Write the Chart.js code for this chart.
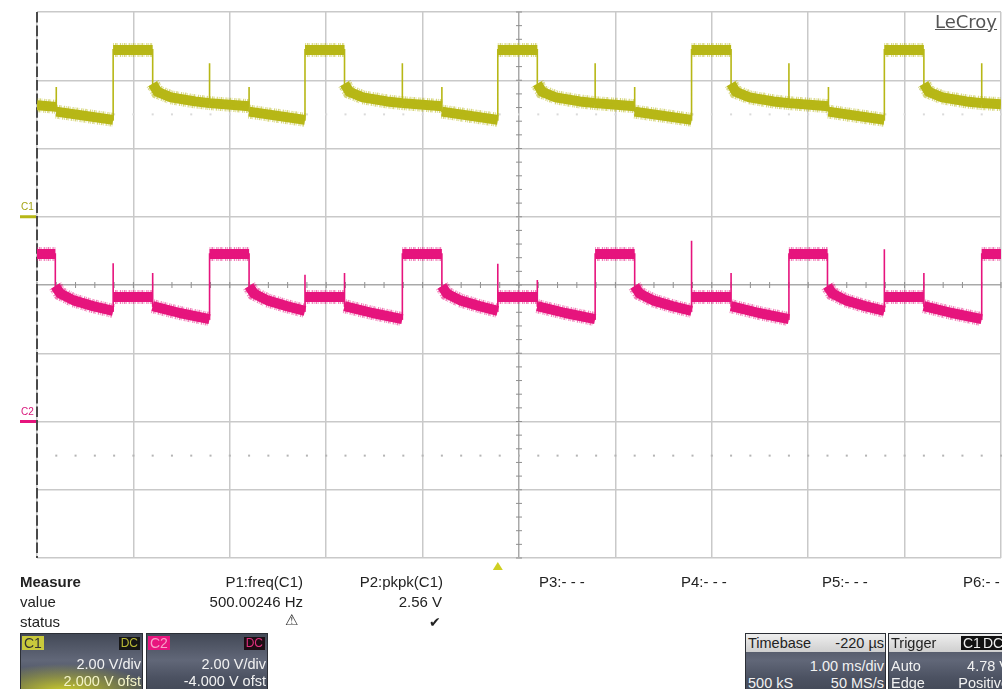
<!DOCTYPE html>
<html>
<head>
<meta charset="utf-8">
<script src="https://cdn.jsdelivr.net/npm/chart.js@4/dist/chart.umd.min.js"></script>
<style>
  body { margin: 0; background: #fff; }
  #scope { position: relative; width: 1002px; height: 689px; overflow: hidden; font-family: 'Liberation Sans', Arial, sans-serif; }
  #scope canvas { position: absolute; left: 0; top: 0; }
  .t { position: absolute; white-space: nowrap; font-size: 15px; line-height: 18px; color: #222; }
  .box { position: absolute; top: 633px; height: 60px; border: 1px solid #2c2f36; box-sizing: border-box; overflow: hidden;
         background: linear-gradient(#434957, #616778 45%, #4c5262 75%, #434957); }
  .box .t { color: #f2f2f2; font-size: 14.5px; }
  .tag { position: absolute; font-size: 14px; line-height: 14px; padding: 0 2px; }
  .hdr { position: absolute; left: 0; right: 0; top: 0; height: 18px; background: linear-gradient(#eeeeee, #cfcfcf); }
  .hdr .t { color: #222; }
</style>
</head>
<body>
<div id="scope">
  <canvas id="chart" width="1002" height="689"></canvas>

  <div class="t" style="left:935px; top:12px; font-family:'DejaVu Sans'; font-size:18px; line-height:20px; color:#555; text-decoration:underline;">LeCroy</div>
  <div class="t" style="left:21px; top:201px; font-size:10px; line-height:11px; color:#a3a312;">C1</div>
  <div class="t" style="left:21px; top:406px; font-size:10px; line-height:11px; color:#d8157a;">C2</div>

  <div class="t" style="left:20px; top:573px; font-weight:bold;">Measure</div>
  <div class="t" style="left:20px; top:593px;">value</div>
  <div class="t" style="left:20px; top:613px;">status</div>
  <div class="t" style="right:699px; top:573px;">P1:freq(C1)</div>
  <div class="t" style="right:699px; top:593px;">500.00246 Hz</div>
  <div class="t" style="left:285px; top:611px; font-family:'DejaVu Sans'; font-size:15px; color:#333;">⚠</div>
  <div class="t" style="right:559px; top:573px;">P2:pkpk(C1)</div>
  <div class="t" style="right:560px; top:593px;">2.56 V</div>
  <div class="t" style="left:429px; top:613px; font-family:'DejaVu Sans'; font-size:14px; color:#222;">✔</div>
  <div class="t" style="left:539px; top:573px;">P3:- - -</div>
  <div class="t" style="left:681px; top:573px;">P4:- - -</div>
  <div class="t" style="left:822px; top:573px;">P5:- - -</div>
  <div class="t" style="left:963px; top:573px;">P6:- - -</div>

  <div class="box" style="left:20px; width:123px; background: radial-gradient(ellipse 90px 28px at 35% 100%, rgba(214,214,40,0.95), rgba(214,214,40,0) 100%), linear-gradient(#434957, #616778 45%, #4c5262 75%, #434957);">
    <div class="tag" style="left:1px; top:2px; background:#c9c93c; color:#333;">C1</div>
    <div class="tag" style="right:2px; top:3px; background:#151515; color:#b9b935; font-size:12px; line-height:13px;">DC</div>
    <div class="t" style="right:1px; top:21px;">2.00 V/div</div>
    <div class="t" style="right:1px; top:38px; color:#f4f4c8;">2.000 V ofst</div>
  </div>
  <div class="box" style="left:146px; width:122px;">
    <div class="tag" style="left:1px; top:2px; background:#e8157e; color:#f6a0c8;">C2</div>
    <div class="tag" style="right:2px; top:3px; background:#1d0d14; color:#e0307e; font-size:12px; line-height:13px;">DC</div>
    <div class="t" style="right:1px; top:21px;">2.00 V/div</div>
    <div class="t" style="right:1px; top:38px;">-4.000 V ofst</div>
  </div>

  <div class="box" style="left:745px; width:141px;">
    <div class="hdr">
      <div class="t" style="left:2px; top:0px;">Timebase</div>
      <div class="t" style="right:1px; top:0px;">-220 µs</div>
    </div>
    <div class="t" style="right:1px; top:23px;">1.00 ms/div</div>
    <div class="t" style="left:2px; top:40px;">500 kS</div>
    <div class="t" style="right:1px; top:40px;">50 MS/s</div>
  </div>
  <div class="box" style="left:888px; width:124px;">
    <div class="hdr">
      <div class="t" style="left:2px; top:0px;">Trigger</div>
      <div class="tag" style="left:72px; top:2px; background:#111; color:#eee;">C1</div>
      <div class="tag" style="left:92px; top:2px; background:#111; color:#eee;">DC</div>
    </div>
    <div class="t" style="left:2px; top:23px;">Auto</div>
    <div class="t" style="right:2px; top:23px;">4.78 V</div>
    <div class="t" style="left:2px; top:40px;">Edge</div>
    <div class="t" style="right:2px; top:40px;">Positive</div>
  </div>
</div>

<script>
// channel settings
const channelNames = ['C1', 'C2']
const channelColors = ['#b7b716', '#e6147d']
const voltsPerDiv = [2, 2]
const channelOffset = [2, -4]
const triggerTime = -0.22 // ms

// C1 trace, ms / volts
const c1Time = [
  -5.00, -4.80, -4.80, -4.80, -4.21, -4.21, -3.80, -3.80, -3.75, -3.61, -3.36, -3.21, -3.21, -3.21,
  -2.80, -2.80, -2.80, -2.22, -2.22, -1.81, -1.81, -1.76, -1.62, -1.37, -1.21, -1.21, -1.21,
  -0.80, -0.80, -0.80, -0.22, -0.22, 0.19, 0.19, 0.24, 0.38, 0.63, 0.79, 0.79, 0.79,
  1.20, 1.20, 1.20, 1.79, 1.79, 2.20, 2.20, 2.25, 2.39, 2.64, 2.80, 2.80, 2.80,
  3.21, 3.21, 3.21, 3.79, 3.79, 4.20, 4.20, 4.25, 4.39, 4.64, 4.80, 4.80, 4.80, 5.00,
]
const c1Volt = [
  3.27, 3.22, 3.80, 3.08, 2.84, 4.89, 4.89, 3.90, 3.66, 3.50, 3.38, 3.33, 4.50, 3.33,
  3.24, 3.80, 3.08, 2.84, 4.89, 4.89, 3.90, 3.66, 3.50, 3.38, 3.33, 4.50, 3.33,
  3.24, 3.80, 3.08, 2.84, 4.89, 4.89, 3.90, 3.66, 3.50, 3.38, 3.33, 4.50, 3.33,
  3.24, 3.80, 3.08, 2.84, 4.89, 4.89, 3.90, 3.66, 3.50, 3.38, 3.33, 4.50, 3.33,
  3.24, 3.80, 3.08, 2.84, 4.89, 4.89, 3.90, 3.66, 3.50, 3.38, 3.33, 4.50, 3.33, 3.30,
]

// C2 trace, ms / volts
const c2Time = [
  -5.00, -4.81, -4.81, -4.76, -4.62, -4.42, -4.21, -4.21, -4.21, -3.80, -3.80, -3.80, -3.52, -3.21, -3.21,
  -2.80, -2.80, -2.75, -2.61, -2.41, -2.22, -2.22, -2.22, -1.81, -1.81, -1.81, -1.52, -1.21, -1.21,
  -0.80, -0.80, -0.75, -0.61, -0.41, -0.22, -0.22, -0.22, 0.19, 0.19, 0.19, 0.48, 0.79, 0.79,
  1.20, 1.20, 1.25, 1.39, 1.59, 1.79, 1.79, 1.79, 2.20, 2.20, 2.20, 2.49, 2.80, 2.80,
  3.20, 3.20, 3.25, 3.39, 3.59, 3.79, 3.79, 3.79, 4.20, 4.20, 4.20, 4.49, 4.80, 4.80, 5.00,
]
const c2Volt = [
  4.91, 4.91, 3.97, 3.75, 3.55, 3.38, 3.24, 4.64, 3.65, 3.65, 4.35, 3.38, 3.18, 3.00, 4.91,
  4.91, 3.97, 3.75, 3.55, 3.38, 3.24, 4.30, 3.65, 3.65, 4.35, 3.38, 3.18, 3.00, 4.91,
  4.91, 3.97, 3.75, 3.55, 3.38, 3.24, 4.62, 3.65, 3.65, 4.15, 3.38, 3.18, 3.00, 4.91,
  4.91, 3.97, 3.75, 3.55, 3.38, 3.24, 5.30, 3.65, 3.65, 4.35, 3.38, 3.18, 3.00, 4.91,
  4.91, 3.97, 3.75, 3.55, 3.38, 3.24, 5.05, 3.65, 3.65, 4.35, 3.38, 3.18, 3.00, 4.91, 4.91,
]

function toPoints(times, volts, ch) {
  return times.map((t, i) => ({ x: t, y: (volts[i] + channelOffset[ch]) / voltsPerDiv[ch] }))
}

// the noisy flat parts: same points, broken at every vertical edge / spike
function noiseBand(points) {
  const out = []
  points.forEach((p, i) => {
    out.push(p)
    const n = points[i + 1]
    if (n && n.x === p.x) out.push({ x: p.x, y: null })
  })
  return out
}

const traces = [toPoints(c1Time, c1Volt, 0), toPoints(c2Time, c2Volt, 1)]
const fuzzColors = ['rgba(183,183,22,0.55)', 'rgba(230,20,125,0.55)']

const datasets = []
traces.forEach((pts, ch) => {
  const color = channelColors[ch]
  datasets.push({ label: channelNames[ch], data: pts, borderColor: color, borderWidth: 1.6 })
  datasets.push({ label: channelNames[ch] + ' band', data: noiseBand(pts), borderColor: color, borderWidth: 10, borderJoinStyle: 'round' })
  datasets.push({ label: channelNames[ch] + ' fuzz', data: noiseBand(pts), borderColor: fuzzColors[ch], borderWidth: 14, borderDash: [0.8, 1.1, 1.6, 0.7, 0.6, 1.9, 1.2, 0.9] })
})

const scopeDecor = {
  id: 'scopeDecor',
  beforeDatasetsDraw(chart) {
    const { ctx, scales: { x, y } } = chart
    const cx = x.getPixelForValue(0)
    const cy = y.getPixelForValue(0)
    ctx.save()
    // minor ticks on the centre axes
    ctx.strokeStyle = '#8f8f8f'
    ctx.lineWidth = 1
    ctx.beginPath()
    for (let i = -25; i <= 25; i++) {
      const px = x.getPixelForValue(i / 5)
      ctx.moveTo(px, cy - 3); ctx.lineTo(px, cy + 3)
    }
    for (let i = -20; i <= 20; i++) {
      const py = y.getPixelForValue(i / 5)
      ctx.moveTo(cx - 3, py); ctx.lineTo(cx + 3, py)
    }
    ctx.stroke()
    // dotted lines
    ;[[2.5, '#dadada'], [-2.5, '#b4b4b4']].forEach(([lvl, col]) => {
      const py = y.getPixelForValue(lvl)
      ctx.fillStyle = col
      for (let i = -25; i <= 25; i++) ctx.fillRect(x.getPixelForValue(i / 5) - 1, py - 1, 2, 2)
    })
    // left edge
    const lx = x.getPixelForValue(x.min)
    ctx.strokeStyle = '#4a4a4a'
    ctx.lineWidth = 2
    ctx.setLineDash([10.6, 3])
    ctx.beginPath()
    ctx.moveTo(lx, y.getPixelForValue(y.max)); ctx.lineTo(lx, y.getPixelForValue(y.min))
    ctx.stroke()
    ctx.restore()
  },
  afterDraw(chart) {
    const { ctx, scales: { x, y } } = chart
    ctx.save()
    // trigger marker
    const tx = x.getPixelForValue(triggerTime)
    const by = y.getPixelForValue(y.min)
    ctx.fillStyle = '#cfcf22'
    ctx.beginPath()
    ctx.moveTo(tx, by + 4); ctx.lineTo(tx + 5, by + 12); ctx.lineTo(tx - 5, by + 12); ctx.closePath()
    ctx.fill()
    // channel ground markers
    channelNames.forEach((n, ch) => {
      const gy = y.getPixelForValue(channelOffset[ch] / voltsPerDiv[ch])
      ctx.fillStyle = channelColors[ch]
      ctx.fillRect(20, gy - 1.5, 16, 3)
    })
    ctx.restore()
  },
}

new Chart(document.getElementById('chart'), {
  type: 'line',
  data: { datasets },
  options: {
    responsive: false,
    animation: false,
    events: [],
    layout: { padding: { left: 37, right: 1, top: 12, bottom: 131 } },
    elements: { point: { radius: 0 }, line: { tension: 0, fill: false, borderCapStyle: 'butt' } },
    plugins: { legend: { display: false }, tooltip: { enabled: false } },
    scales: {
      x: {
        type: 'linear', min: -5, max: 5,
        ticks: { display: false, stepSize: 1 },
        grid: { drawTicks: false, lineWidth: 1.5, color: (c) => c.tick.value === 0 ? '#a9a9a9' : '#c9c9c9' },
        border: { display: false },
      },
      y: {
        min: -4, max: 4,
        ticks: { display: false, stepSize: 1 },
        grid: { drawTicks: false, lineWidth: 1.5, color: (c) => c.tick.value === 0 ? '#a9a9a9' : '#c9c9c9' },
        border: { display: false },
      },
    },
  },
  plugins: [scopeDecor],
})
</script>
</body>
</html>
